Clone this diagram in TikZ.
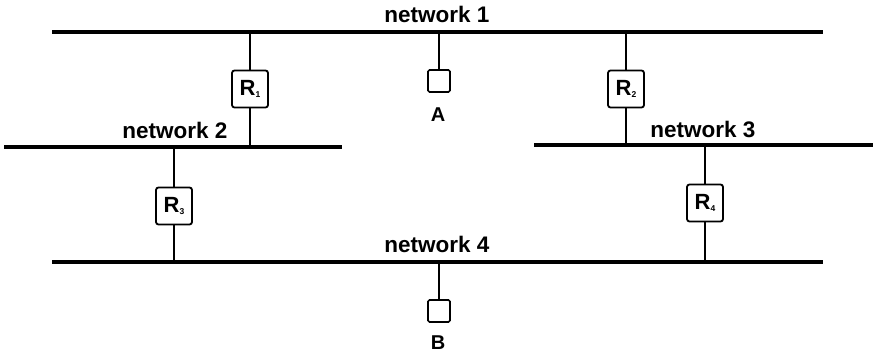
\documentclass[tikz,border=0pt]{standalone}
\usepackage{fontspec}
\setmainfont{Liberation Sans}
\begin{document}
\begin{tikzpicture}[x=1pt,y=-1pt,
  net/.style={line width=3.2pt},
  link/.style={line width=1.6pt},
  router/.style={draw,line width=1.8pt,rounded corners=2.5pt,minimum width=36pt,minimum height=37pt,inner sep=0pt,font=\bfseries\fontsize{22}{22}\selectfont},
  host/.style={draw,line width=1.7pt,rounded corners=1.5pt,minimum size=22pt,inner sep=0pt},
  netlabel/.style={font=\bfseries\fontsize{22.5}{22.5}\selectfont,inner sep=0pt},
  hostlabel/.style={font=\bfseries\fontsize{20}{20}\selectfont,inner sep=0pt}]
\useasboundingbox (0,0) rectangle (873,355);
% networks
\coordinate (n1a) at (52,32); \coordinate (n1b) at (823,32);
\coordinate (n2a) at (4,147); \coordinate (n2b) at (342,147);
\coordinate (n3a) at (534,145); \coordinate (n3b) at (873,145);
\coordinate (n4a) at (52,262); \coordinate (n4b) at (823,262);
\draw[net] (n1a) -- (n1b);
\draw[net] (n2a) -- (n2b);
\draw[net] (n3a) -- (n3b);
\draw[net] (n4a) -- (n4b);
\node[netlabel] (l1) at (437,14) {network 1};
\node[netlabel] (l2) at (175,130) {network 2};
\node[netlabel] (l3) at (703,129) {network 3};
\node[netlabel] (l4) at (437,244) {network 4};
% taps
\coordinate (t1) at (250,32); \coordinate (t1b) at (250,147);
\coordinate (t2) at (626,32); \coordinate (t2b) at (626,145);
\coordinate (t3) at (174,147); \coordinate (t3b) at (174,262);
\coordinate (t4) at (705,145); \coordinate (t4b) at (705,262);
\coordinate (tA) at (439,32); \coordinate (tB) at (439,262);
% routers
\node[router] (R1) at (250,89) {R\raisebox{-0.2ex}{\fontsize{8.5}{8.5}\selectfont 1}};
\node[router] (R2) at (626,89) {R\raisebox{-0.2ex}{\fontsize{8.5}{8.5}\selectfont 2}};
\node[router] (R3) at (174,206) {R\raisebox{-0.2ex}{\fontsize{8.5}{8.5}\selectfont 3}};
\node[router] (R4) at (705,203) {R\raisebox{-0.2ex}{\fontsize{8.5}{8.5}\selectfont 4}};
\node[host] (A) at (439,81) {};
\node[host] (B) at (439,311) {};
\node[hostlabel] (Al) at (438,115) {A};
\node[hostlabel] (Bl) at (438,343) {B};
\draw[link] (t1) -- (R1) -- (t1b);
\draw[link] (t2) -- (R2) -- (t2b);
\draw[link] (t3) -- (R3) -- (t3b);
\draw[link] (t4) -- (R4) -- (t4b);
\draw[link] (tA) -- (A);
\draw[link] (tB) -- (B);
\end{tikzpicture}
\end{document}
